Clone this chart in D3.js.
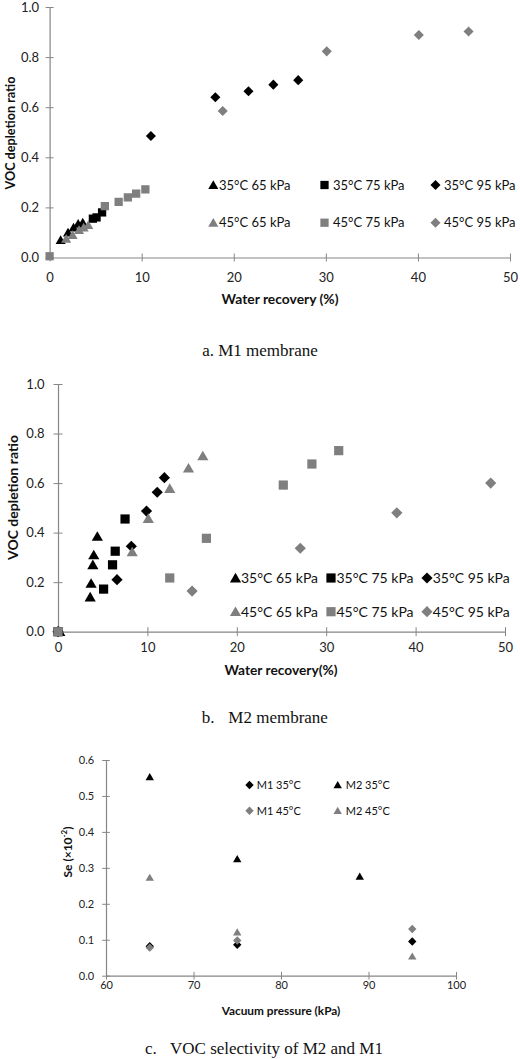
<!DOCTYPE html>
<html>
<head>
<meta charset="utf-8">
<script src="https://cdn.jsdelivr.net/npm/d3@7"></script>
<style>
body{margin:0;background:#fff;}
text{font-family:Lato,"Open Sans",sans-serif;}
.cap{font-family:"Liberation Serif","Times New Roman",serif;}
</style>
</head>
<body>
<script>
// ---------------- DATA ----------------
// Panel a: M1 membrane  [water recovery %, VOC depletion ratio]
const a_35_65 = [[1.2,0.07],[2.0,0.1],[2.6,0.12],[3.1,0.135],[3.6,0.14]];
const a_35_75 = [[4.7,0.155],[5.1,0.16],[5.7,0.18]];
const a_35_95 = [[11.0,0.485],[18.0,0.64],[21.6,0.664],[24.3,0.69],[27.0,0.708]];
const a_45_65 = [[1.8,0.075],[2.5,0.09],[3.2,0.11],[3.7,0.12],[4.2,0.13]];
const a_45_75 = [[0,0.005],[6.0,0.205],[7.5,0.222],[8.5,0.24],[9.4,0.255],[10.4,0.272]];
const a_45_95 = [[18.8,0.585],[30.1,0.823],[40.1,0.888],[45.5,0.902]];

// Panel b: M2 membrane
const b_35_65 = [[0.2,0],[3.6,0.14],[3.7,0.195],[3.9,0.27],[4.0,0.31],[4.4,0.385]];
const b_35_75 = [[0,0],[5.1,0.172],[6.1,0.27],[6.4,0.325],[7.5,0.455]];
const b_35_95 = [[0,0],[6.6,0.21],[8.2,0.345],[9.9,0.487],[11.1,0.563],[11.9,0.622]];
const b_45_65 = [[8.3,0.322],[10.1,0.457],[12.5,0.578],[14.6,0.66],[16.2,0.71]];
const b_45_75 = [[0,0],[12.5,0.217],[16.6,0.377],[25.2,0.592],[28.4,0.677],[31.4,0.731]];
const b_45_95 = [[15.0,0.164],[27.1,0.337],[37.9,0.48],[48.4,0.6]];

// Panel c: selectivity [vacuum pressure kPa, Se x10^-2]
const c_M1_35 = [[65,0.082],[75,0.086],[95,0.095]];
const c_M2_35 = [[65,0.553],[75,0.325],[89,0.276]];
const c_M1_45 = [[65,0.078],[75,0.098],[95,0.13]];
const c_M2_45 = [[65,0.273],[75,0.121],[95,0.054]];

// Tick values
const ticksWaterX = [0,10,20,30,40,50];
const ticksRatioY = [0,0.2,0.4,0.6,0.8,1.0];
const ticksPressX = [60,70,80,90,100];
const ticksSeY = [0,0.1,0.2,0.3,0.4,0.5,0.6];

// Legend labels
const legendWater = ["35°C 65 kPa","35°C 75 kPa","35°C 95 kPa","45°C 65 kPa","45°C 75 kPa","45°C 95 kPa"];
const legendSe = ["M1 35°C","M2 35°C","M1 45°C","M2 45°C"];

// ---------------- DRAWING ----------------
const BLACK = "#000000", GRAY = "#7f7f7f", AXIS = "#868686";

function markerPath(type, s){
  if(type==="tri") return `M0,${-0.52*s}L${0.56*s},${0.44*s}L${-0.56*s},${0.44*s}Z`;
  if(type==="sq") return `M${-0.46*s},${-0.46*s}h${0.92*s}v${0.92*s}h${-0.92*s}Z`;
  return `M0,${-0.56*s}L${0.56*s},0L0,${0.56*s}L${-0.56*s},0Z`;
}

const svg = d3.select("body").append("svg").attr("width",520).attr("height",1059);

function drawAxes(g, x, y, xt, yt, o){
  const xa = d3.axisBottom(x).tickValues(xt).tickFormat(d3.format("d")).tickSizeInner(o.tick).tickSizeOuter(0).tickPadding(o.xpad);
  const ya = d3.axisLeft(y).tickValues(yt).tickFormat(d3.format(".1f")).tickSizeInner(o.tick).tickSizeOuter(0).tickPadding(o.ypad);
  const gx = g.append("g").attr("transform",`translate(0,${y.range()[0]})`).call(xa);
  const gy = g.append("g").attr("transform",`translate(${x.range()[0]},0)`).call(ya);
  [gx,gy].forEach(a=>{
    a.select(".domain").attr("stroke",AXIS).attr("stroke-width",1.2);
    a.selectAll(".tick text").attr("font-size",o.fs).attr("fill","#222");
  });
  gx.selectAll(".tick line").attr("stroke",AXIS).attr("y1",-o.tick).attr("y2",o.tick);
  gy.selectAll(".tick line").attr("stroke",AXIS).attr("x1",-o.tick).attr("x2",o.tick);
}

function drawSeries(g, x, y, data, type, color, s){
  g.append("g").selectAll("path").data(data).join("path")
    .attr("d",markerPath(type,s)).attr("fill",color)
    .attr("transform",d=>`translate(${x(d[0])},${y(d[1])})`);
}

function legendItem(g, mx, my, tx, type, color, s, label, fs){
  g.append("path").attr("d",markerPath(type,s)).attr("fill",color).attr("transform",`translate(${mx},${my})`);
  g.append("text").attr("x",tx).attr("y",my).attr("dy","0.36em").attr("font-size",fs).attr("fill","#111").text(label);
}

function title(g, x, y, txt, fs, len, rot){
  const t = g.append("text").attr("font-size",fs).attr("font-weight","bold").attr("fill","#111")
    .attr("text-anchor","middle").attr("dy","0.36em").attr("textLength",len).attr("lengthAdjust","spacingAndGlyphs");
  if(rot) t.attr("transform",`translate(${x},${y}) rotate(-90)`); else t.attr("x",x).attr("y",y);
  t.text(txt);
  return t;
}

// ---- Panel a ----
{
  const g = svg.append("g");
  const x = d3.scaleLinear().domain([0,50]).range([49.6,510]);
  const y = d3.scaleLinear().domain([0,1]).range([257.5,7]);
  drawAxes(g,x,y,ticksWaterX,ticksRatioY,{tick:4,xpad:11,ypad:6.5,fs:13});
  const s=9;
  drawSeries(g,x,y,a_35_65,"tri",BLACK,s);
  drawSeries(g,x,y,a_35_75,"sq",BLACK,s);
  drawSeries(g,x,y,a_35_95,"dia",BLACK,s);
  drawSeries(g,x,y,a_45_65,"tri",GRAY,s);
  drawSeries(g,x,y,a_45_75,"sq",GRAY,s);
  drawSeries(g,x,y,a_45_95,"dia",GRAY,s);
  const lg = g.append("g");
  legendItem(lg,213.3,185,219,"tri",BLACK,s,legendWater[0],13);
  legendItem(lg,324.5,185,333,"sq",BLACK,s,legendWater[1],13);
  legendItem(lg,435.5,185,444,"dia",BLACK,s,legendWater[2],13);
  legendItem(lg,213.3,222.7,219,"tri",GRAY,s,legendWater[3],13);
  legendItem(lg,324.5,222.7,333,"sq",GRAY,s,legendWater[4],13);
  legendItem(lg,435.5,222.7,444,"dia",GRAY,s,legendWater[5],13);
  title(g,10,133,"VOC depletion ratio",13,113,true);
  title(g,280,299,"Water recovery (%)",13.5,117,false);
  g.append("text").attr("class","cap").attr("x",260).attr("y",350).attr("dy","0.35em").attr("text-anchor","middle")
    .attr("font-size",17).attr("fill","#111").text("a. M1 membrane");
}

// ---- Panel b ----
{
  const g = svg.append("g");
  const x = d3.scaleLinear().domain([0,50]).range([58,505]);
  const y = d3.scaleLinear().domain([0,1]).range([631.7,384]);
  drawAxes(g,x,y,ticksWaterX,ticksRatioY,{tick:4.5,xpad:7,ypad:9,fs:13});
  const s=10;
  drawSeries(g,x,y,b_35_65,"tri",BLACK,s);
  drawSeries(g,x,y,b_35_75,"sq",BLACK,s);
  drawSeries(g,x,y,b_35_95,"dia",BLACK,s);
  drawSeries(g,x,y,b_45_65,"tri",GRAY,s);
  drawSeries(g,x,y,b_45_75,"sq",GRAY,s);
  drawSeries(g,x,y,b_45_95,"dia",GRAY,s);
  const lg = g.append("g");
  legendItem(lg,235.5,578,241,"tri",BLACK,s,legendWater[0],14);
  legendItem(lg,331,578,336.5,"sq",BLACK,s,legendWater[1],14);
  legendItem(lg,427,578,432.7,"dia",BLACK,s,legendWater[2],14);
  legendItem(lg,235.5,611.7,241,"tri",GRAY,s,legendWater[3],14);
  legendItem(lg,331,611.7,336.5,"sq",GRAY,s,legendWater[4],14);
  legendItem(lg,427,611.7,432.7,"dia",GRAY,s,legendWater[5],14);
  title(g,13.3,497.5,"VOC depletion ratio",13.5,125,true);
  title(g,281,670,"Water recovery(%)",13.5,113,false);
  const cap = g.append("g").attr("class","cap");
  cap.append("text").attr("class","cap").attr("x",201.7).attr("y",717).attr("dy","0.35em").attr("font-size",17).attr("fill","#111").text("b.");
  cap.append("text").attr("class","cap").attr("x",228.3).attr("y",717).attr("dy","0.35em").attr("font-size",17).attr("fill","#111").text("M2 membrane");
}

// ---- Panel c ----
{
  const g = svg.append("g");
  const x = d3.scaleLinear().domain([60,100]).range([106,456]);
  const y = d3.scaleLinear().domain([0,0.6]).range([975.7,760]);
  drawAxes(g,x,y,ticksPressX,ticksSeY,{tick:3.8,xpad:1.8,ypad:8,fs:11});
  const s=7.5;
  drawSeries(g,x,y,c_M1_35,"dia",BLACK,s);
  drawSeries(g,x,y,c_M2_35,"tri",BLACK,s);
  drawSeries(g,x,y,c_M1_45,"dia",GRAY,s);
  drawSeries(g,x,y,c_M2_45,"tri",GRAY,s);
  const lg = g.append("g");
  legendItem(lg,249.5,785,256.7,"dia",BLACK,s,legendSe[0],11);
  legendItem(lg,337.7,785,345.7,"tri",BLACK,s,legendSe[1],11);
  legendItem(lg,249.5,810.7,256.7,"dia",GRAY,s,legendSe[2],11);
  legendItem(lg,337.7,810.7,345.7,"tri",GRAY,s,legendSe[3],11);
  // y title with superscript
  const yt = g.append("text").attr("font-size",12).attr("font-weight","bold").attr("fill","#111")
    .attr("text-anchor","middle").attr("dy","0.36em").attr("transform","translate(68,852) rotate(-90)");
  yt.append("tspan").text("Se (×10");
  yt.append("tspan").attr("baseline-shift","super").attr("font-size",8).text("-2");
  yt.append("tspan").text(")");
  title(g,281,1010.7,"Vacuum pressure (kPa)",11,118.7,false);
  const cap = g.append("g");
  cap.append("text").attr("class","cap").attr("x",145).attr("y",1048).attr("dy","0.35em").attr("font-size",17).attr("fill","#111").text("c.");
  cap.append("text").attr("class","cap").attr("x",170).attr("y",1048).attr("dy","0.35em").attr("font-size",17).attr("fill","#111").text("VOC selectivity of M2 and M1");
}
</script>
</body>
</html>
